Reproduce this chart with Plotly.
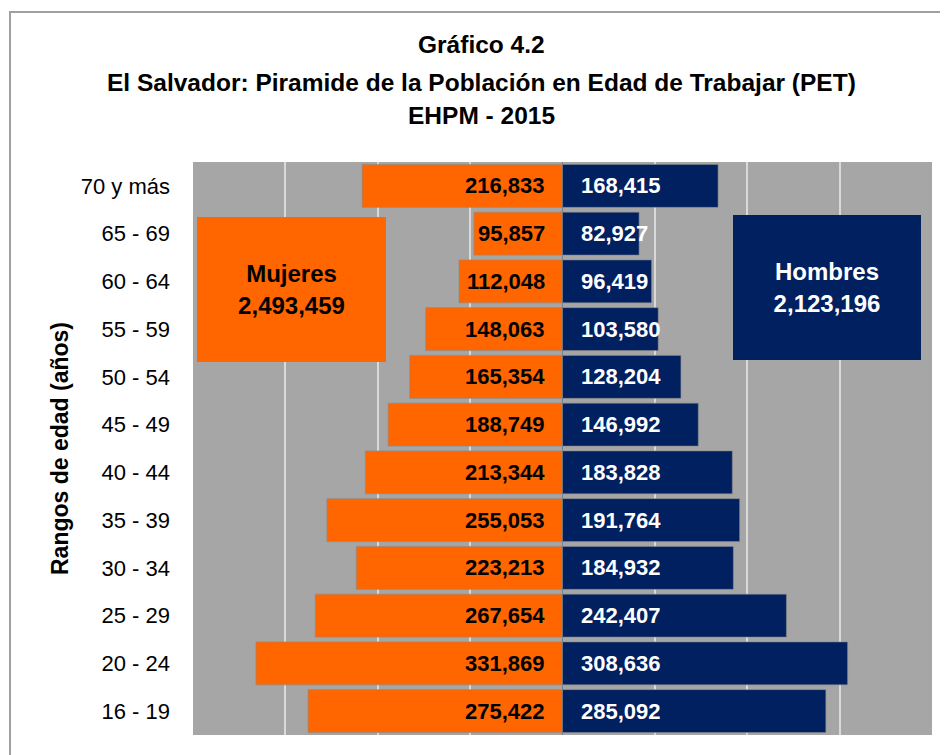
import plotly.graph_objects as go

categorias = ["16 - 19", "20 - 24", "25 - 29", "30 - 34", "35 - 39", "40 - 44",
              "45 - 49", "50 - 54", "55 - 59", "60 - 64", "65 - 69", "70 y más"]
mujeres = [275422, 331869, 267654, 223213, 255053, 213344,
           188749, 165354, 148063, 112048, 95857, 216833]
hombres = [285092, 308636, 242407, 184932, 191764, 183828,
           146992, 128204, 103580, 96419, 82927, 168415]
total_mujeres = 2493459
total_hombres = 2123196
x_ticks = [-400000, -300000, -200000, -100000, 0, 100000, 200000, 300000, 400000]
titulo = ["Gráfico 4.2",
          "El Salvador: Piramide de la Población en Edad de Trabajar (PET)",
          "EHPM - 2015"]

FONT = "Liberation Sans, Arial, sans-serif"
ORANGE = "#FF6600"
NAVY = "#002060"

fig = go.Figure()
fig.add_trace(go.Bar(
    y=categorias, x=[-v for v in mujeres], orientation="h", name="Mujeres",
    marker=dict(color=ORANGE, line=dict(color="#8a8a8a", width=0.6)),
    hoverinfo="skip"))
fig.add_trace(go.Bar(
    y=categorias, x=hombres, orientation="h", name="Hombres",
    marker=dict(color=NAVY, line=dict(color="#8a8a8a", width=0.6)),
    hoverinfo="skip"))

annotations = []
for c, m, h in zip(categorias, mujeres, hombres):
    annotations.append(dict(x=0, y=c, xref="x", yref="y", text=f"<b>{m:,}</b>",
                            showarrow=False, xanchor="right", xshift=-16,
                            font=dict(family=FONT, size=22, color="black")))
    annotations.append(dict(x=0, y=c, xref="x", yref="y", text=f"<b>{h:,}</b>",
                            showarrow=False, xanchor="left", xshift=16,
                            font=dict(family=FONT, size=22, color="white")))

annotations.append(dict(x=0.1333, y=0.7775, xref="paper", yref="paper",
                        text=f"<b>Mujeres<br>{total_mujeres:,}</b>", showarrow=False,
                        xanchor="center", yanchor="middle", width=189, height=145,
                        bgcolor=ORANGE, borderpad=0, borderwidth=0,
                        font=dict(family=FONT, size=24, color="black")))
annotations.append(dict(x=0.858, y=0.781, xref="paper", yref="paper",
                        text=f"<b>Hombres<br>{total_hombres:,}</b>", showarrow=False,
                        xanchor="center", yanchor="middle", width=188, height=145,
                        bgcolor=NAVY, borderpad=0, borderwidth=0,
                        font=dict(family=FONT, size=24, color="white")))

# title lines
for txt, yp in zip(titulo, [1.2042, 1.1396, 1.082]):
    annotations.append(dict(x=0.391, y=yp, xref="paper", yref="paper",
                            text=f"<b>{txt}</b>", showarrow=False,
                            xanchor="center", yanchor="middle",
                            font=dict(family=FONT, size=24.5, color="black")))

fig.update_layout(
    width=948, height=755,
    margin=dict(l=185, r=24, t=154, b=28),
    paper_bgcolor="white", plot_bgcolor="#A6A6A6",
    barmode="relative", bargap=0.1, showlegend=False,
    xaxis=dict(range=[-400000, 400000], tickvals=x_ticks, showticklabels=False,
               showgrid=True, gridcolor="#D9D9D9", gridwidth=2,
               zeroline=True, zerolinecolor="#808080", zerolinewidth=1,
               fixedrange=True),
    yaxis=dict(categoryorder="array", categoryarray=categorias,
               tickfont=dict(family=FONT, size=22, color="black"),
               ticklabelstandoff=22, showgrid=False, zeroline=False,
               title=dict(text="<b>Rangos de edad (años)</b>", standoff=5,
                          font=dict(family=FONT, size=23, color="black"))),
    annotations=annotations,
    shapes=[dict(type="rect", xref="paper", yref="paper",
                 x0=(10 - 193) / 739, x1=1.1, y0=-0.2, y1=1 + (162 - 12) / 573,
                 line=dict(color="#A0A0A0", width=2), fillcolor="rgba(0,0,0,0)",
                 layer="below")],
)

fig.write_html("out.html")
